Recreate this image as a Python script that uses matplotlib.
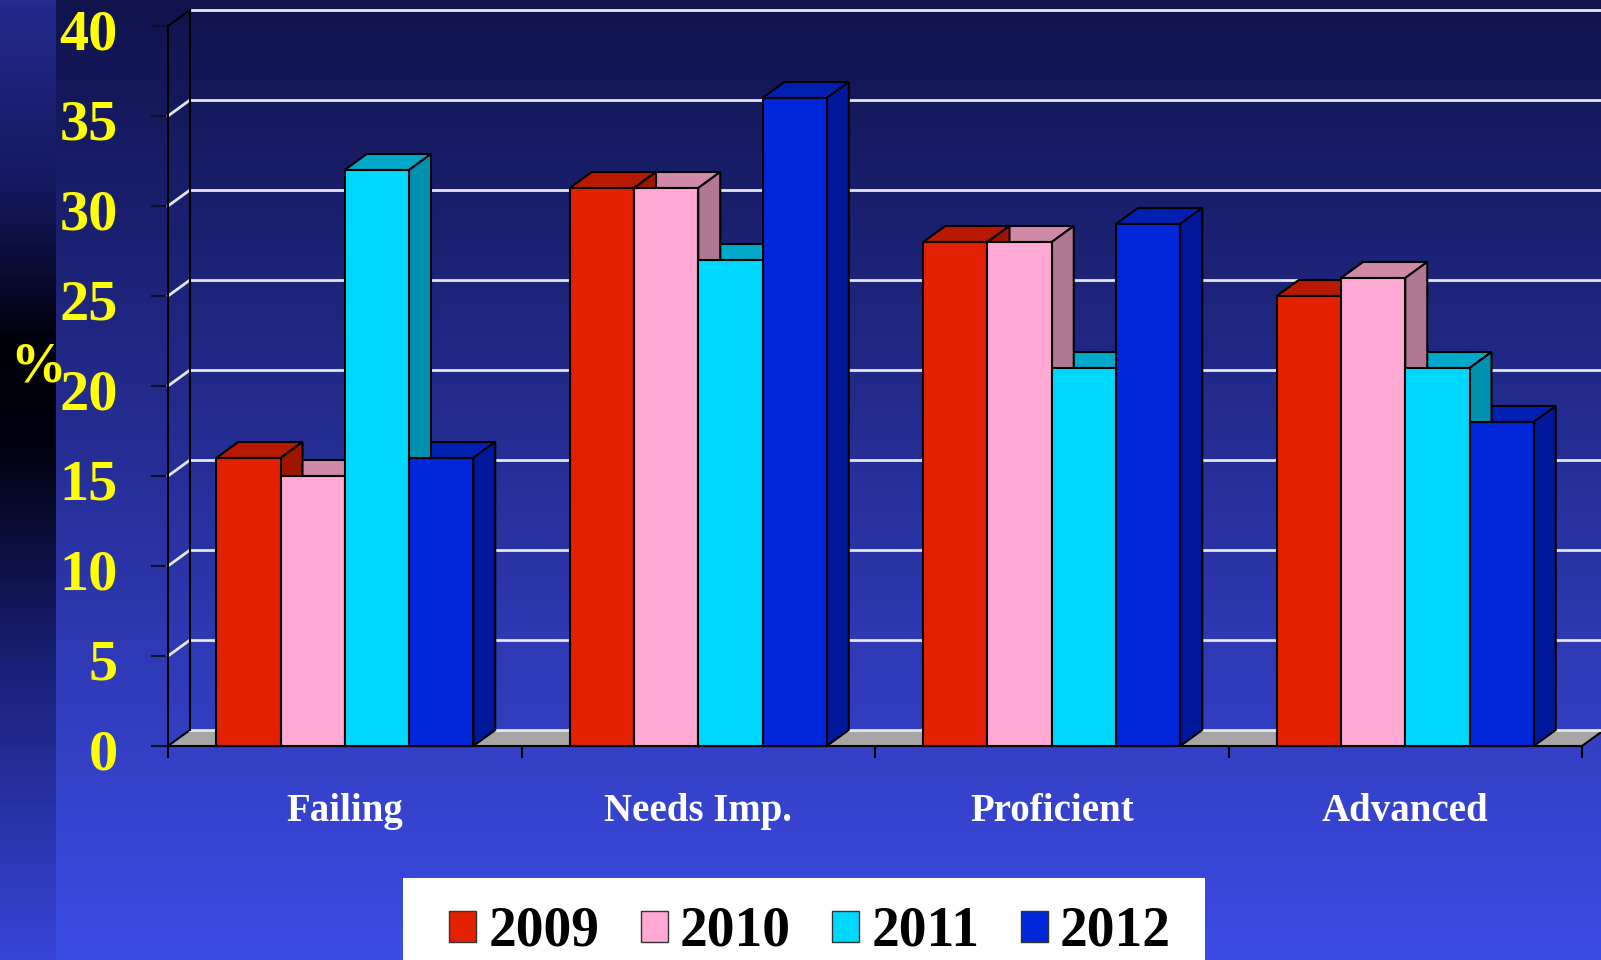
import numpy as np
import matplotlib.pyplot as plt
from matplotlib.patches import Polygon, Rectangle, Patch
from matplotlib.transforms import ScaledTranslation

# data (percent of students)
categories = ['Failing', 'Needs Imp.', 'Proficient', 'Advanced']
years = ['2009', '2010', '2011', '2012']
pct_2009 = [16, 31, 28, 25]
pct_2010 = [15, 31, 28, 26]
pct_2011 = [32, 27, 21, 21]
pct_2012 = [16, 36, 29, 18]
y_ticks = [0, 5, 10, 15, 20, 25, 30, 35, 40]

series = [pct_2009, pct_2010, pct_2011, pct_2012]
front_col = ['#e32100', '#ffa9d4', '#00d8ff', '#0027d9']
top_col = ['#b81a00', '#d08aa8', '#00a9c9', '#0020b2']
side_col = ['#a01500', '#b07892', '#0090b0', '#00199c']

plt.rcParams['font.family'] = ['Liberation Serif', 'DejaVu Serif']
plt.rcParams['font.weight'] = 'bold'

W, H = 1601, 960
fig = plt.figure(figsize=(W / 100, H / 100), dpi=100)

# background gradient (pixel coords)
bg = fig.add_axes([0, 0, 1, 1], zorder=-10)
bg.set_axis_off()
rows = np.linspace(0, 1, H)
top_c = np.array([16, 19, 76]) / 255
bot_c = np.array([61, 76, 230]) / 255
main = top_c[None, :] * (1 - rows[:, None]) + bot_c[None, :] * rows[:, None]
img = np.repeat(main[:, None, :], W, axis=1)
stops = [0, 0.2, 0.36, 0.47, 0.7, 1.0]
cols = np.array([[36, 42, 142], [20, 24, 92], [0, 0, 8], [2, 2, 18], [26, 33, 122], [56, 68, 214]]) / 255
strip = np.stack([np.interp(rows, stops, cols[:, k]) for k in range(3)], axis=1)
img[:, :56, :] = strip[:, None, :]
bg.imshow(img, extent=[0, W, H, 0], aspect='auto')
bg.set_xlim(0, W)
bg.set_ylim(H, 0)

# legend box
bg.add_patch(Rectangle((403, 878), 802, 100, facecolor='white', edgecolor='none'))
bg.text(38, 367, '%', color='#ffff00', fontsize=40, ha='center', va='center')

# main plot area (front plane)
ax = fig.add_axes([168 / W, (H - 746) / H, 1414 / W, 720 / H])
ax.set_xlim(0, 4)
ax.set_ylim(0, 40)
ax.patch.set_alpha(0)
for s in ['top', 'right']:
    ax.spines[s].set_visible(False)
ax.spines['left'].set_color('black')
ax.spines['bottom'].set_color('black')
ax.spines['left'].set_linewidth(1.5)
ax.spines['bottom'].set_linewidth(1.5)

dx = 22 / 353.5
dy = 16 / 18.0

# floor
ax.add_patch(Polygon([(0, 0), (4, 0), (4 + dx, dy), (dx, dy)], closed=True,
                     facecolor='#a6a6a6', edgecolor='none', zorder=1, clip_on=False))
ax.plot([4, 4 + dx], [0, dy], color='black', lw=1.5, zorder=2, clip_on=False)
ax.plot([0, dx], [0, dy], color='black', lw=1.5, zorder=2, clip_on=False)

# walls and grid
for v in y_ticks:
    ax.plot([dx, 4.1], [v + dy, v + dy], color='#e6e6ef', lw=2, zorder=2, clip_on=False)
    if 0 < v < 40:
        ax.plot([0, dx], [v, v + dy], color='#e6e6ef', lw=2, zorder=2, clip_on=False)
ax.plot([0, dx], [40, 40 + dy], color='black', lw=1.5, zorder=2, clip_on=False)
ax.plot([dx, dx], [dy, 40 + dy], color='black', lw=1.5, zorder=2, clip_on=False)

# 3D bars
w = 64.25 / 353.5
for j, vals in enumerate(series):
    for i, h in enumerate(vals):
        x0 = i + 0.5 - 2 * w + j * w
        ax.add_patch(Polygon([(x0, h), (x0 + w, h), (x0 + w + dx, h + dy), (x0 + dx, h + dy)],
                             closed=True, facecolor=top_col[j], edgecolor='black', lw=1.5,
                             zorder=3, clip_on=False))
        ax.add_patch(Polygon([(x0 + w, 0), (x0 + w + dx, dy), (x0 + w + dx, h + dy), (x0 + w, h)],
                             closed=True, facecolor=side_col[j], edgecolor='black', lw=1.5,
                             zorder=4, clip_on=False))
        ax.add_patch(Rectangle((x0, 0), w, h, facecolor=front_col[j], edgecolor='black',
                               lw=1.5, zorder=5, clip_on=False))

# ticks
ax.set_yticks(y_ticks)
ax.set_yticklabels([str(v) for v in y_ticks])
ax.tick_params(axis='y', length=12.2, width=1.5, color='#101028', pad=24,
               labelcolor='#ffff00', labelsize=42)
shift = ScaledTranslation(0, -0.04, fig.dpi_scale_trans)
for lbl in ax.get_yticklabels():
    lbl.set_transform(lbl.get_transform() + shift)
ax.set_xticks([0, 1, 2, 3, 4])
ax.set_xticklabels([])
ax.set_xticks([0.5, 1.5, 2.5, 3.5], minor=True)
ax.set_xticklabels(categories, minor=True)
ax.tick_params(axis='x', which='major', length=8.6, width=1.5, color='black', direction='out')
ax.tick_params(axis='x', which='minor', length=0, pad=34, labelcolor='white', labelsize=28)

handles = [Patch(facecolor=front_col[j], edgecolor='#333333', lw=1) for j in range(4)]
fig.legend(handles, years, loc='upper left', bbox_to_anchor=(449 / W, 1 - 906 / H),
           ncol=4, frameon=False, fontsize=40, handlelength=0.49, handleheight=0.47,
           handletextpad=0.22, columnspacing=0.74, borderpad=0, borderaxespad=0,
           labelcolor='black')

fig.savefig('out.png', dpi=100)
